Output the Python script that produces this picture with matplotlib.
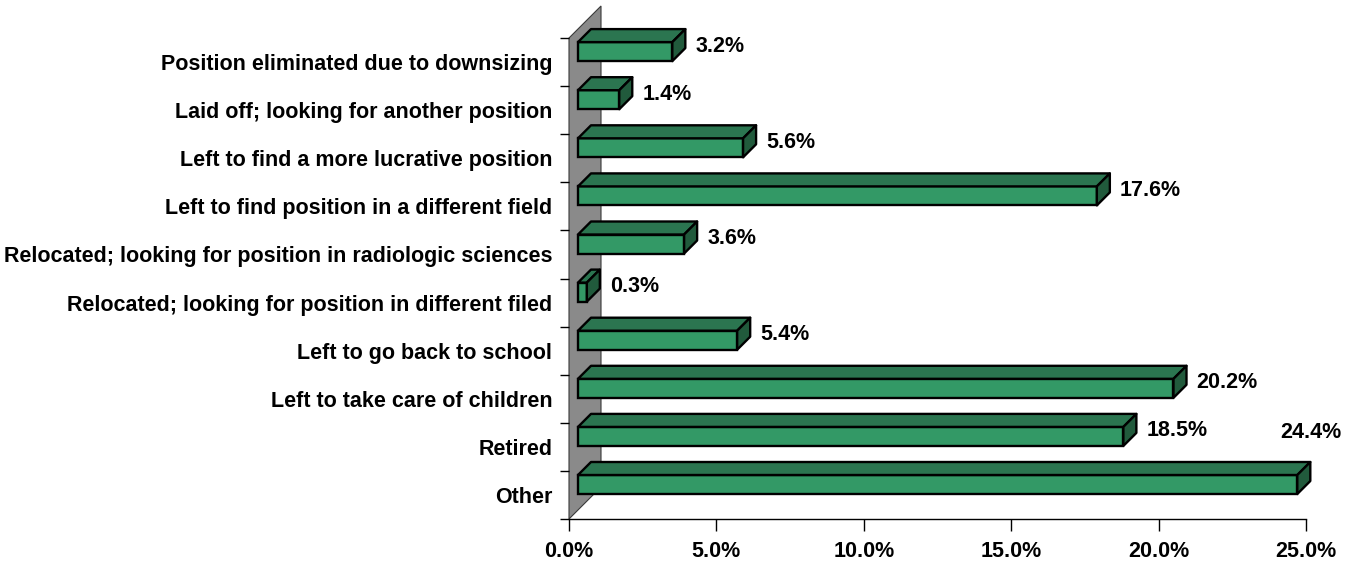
import matplotlib
matplotlib.use("Agg")
import matplotlib.pyplot as plt
from matplotlib.patches import Polygon

plt.rcParams['font.family'] = ['Liberation Sans', 'DejaVu Sans']

categories = [
    "Position eliminated due to downsizing",
    "Laid off; looking for another position",
    "Left to find a more lucrative position",
    "Left to find position in a different field",
    "Relocated; looking for position in radiologic sciences",
    "Relocated; looking for position in different filed",
    "Left to go back to school",
    "Left to take care of children",
    "Retired",
    "Other",
]
values = [3.2, 1.4, 5.6, 17.6, 3.6, 0.3, 5.4, 20.2, 18.5, 24.4]
xticks = [0, 5, 10, 15, 20, 25]

# styling
FRONT = '#339966'
TOP = '#2b7550'
SIDE = '#215a3c'
WALL = '#8a8a8a'
FS = 15.5
LW = 1.7

W_PX, H_PX = 1354, 564
fig = plt.figure(figsize=(W_PX / 100, H_PX / 100), dpi=100)
ax_left, ax_right, ax_bot, ax_top = 569, 1306, 519, 5
ax = fig.add_axes([ax_left / W_PX, (H_PX - ax_bot) / H_PX,
                   (ax_right - ax_left) / W_PX, (ax_bot - ax_top) / H_PX])

n = len(categories)
unit_y = 48.1  # px per category
xmax = 25.0
px_x = (ax_right - ax_left) / xmax
px_y = unit_y
ax.set_xlim(0, xmax)
ax.set_ylim(0, (ax_bot - ax_top) / unit_y)

# depth offsets (pixels -> data)
wx, wy = 32 / px_x, 32 / px_y          # wall depth
fx = 9 / px_x                           # front face offset
dx, dy = 13 / px_x, 13 / px_y           # bar depth
bar_bot = 25 / px_y
bar_h = 19 / px_y

# back wall
wall = Polygon([(0, 0), (0, n), (wx, n + wy), (wx, wy)], closed=True,
               facecolor=WALL, edgecolor='#3a3a3a', lw=0.8, zorder=1, clip_on=False)
ax.add_patch(wall)

ks = [n - 1 - i for i in range(n)]
ys = [k + bar_bot for k in ks]
ax.barh(ys, values, height=bar_h, left=fx, align='edge', color=FRONT,
        edgecolor='black', linewidth=LW, zorder=3, clip_on=False)

for y, v in zip(ys, values):
    top = y + bar_h
    x1 = fx + v
    ax.add_patch(Polygon([(fx, top), (x1, top), (x1 + dx, top + dy), (fx + dx, top + dy)],
                         closed=True, facecolor=TOP, edgecolor='black', lw=LW,
                         joinstyle='round', zorder=3, clip_on=False))
    ax.add_patch(Polygon([(x1, y), (x1, top), (x1 + dx, top + dy), (x1 + dx, y + dy)],
                         closed=True, facecolor=SIDE, edgecolor='black', lw=LW,
                         joinstyle='round', zorder=3, clip_on=False))

# data labels (offsets in px)
label_off = [(10, -4)] * (n - 1) + [(-30, 43)]
for y, v, (ox, oy) in zip(ys, values, label_off):
    ax.annotate(f"{v:.1f}%", xy=(fx + v + dx, y + bar_h), xytext=(ox * 0.72, oy * 0.72),
                textcoords='offset points', ha='left', va='center',
                fontsize=FS, fontweight='bold', annotation_clip=False)

# axes styling
for s in ['top', 'right', 'left']:
    ax.spines[s].set_visible(False)
ax.spines['bottom'].set_linewidth(1.0)
ax.spines['bottom'].set_zorder(2)

ax.set_xticks(xticks)
ax.set_xticklabels([f"{t:.1f}%" for t in xticks], fontsize=FS, fontweight='bold')
ax.tick_params(axis='x', direction='out', length=8.6, width=1.0, pad=7)

ax.set_yticks(range(n + 1))
ax.set_yticklabels([])
ax.tick_params(axis='y', which='major', direction='out', length=6.5, width=1.0)
ax.set_yticks([k + 0.5 for k in ks], minor=True)
ax.set_yticklabels(categories, minor=True, fontsize=FS, fontweight='bold')
ax.tick_params(axis='y', which='minor', length=0, pad=12)

fig.savefig("out.png", dpi=100)
